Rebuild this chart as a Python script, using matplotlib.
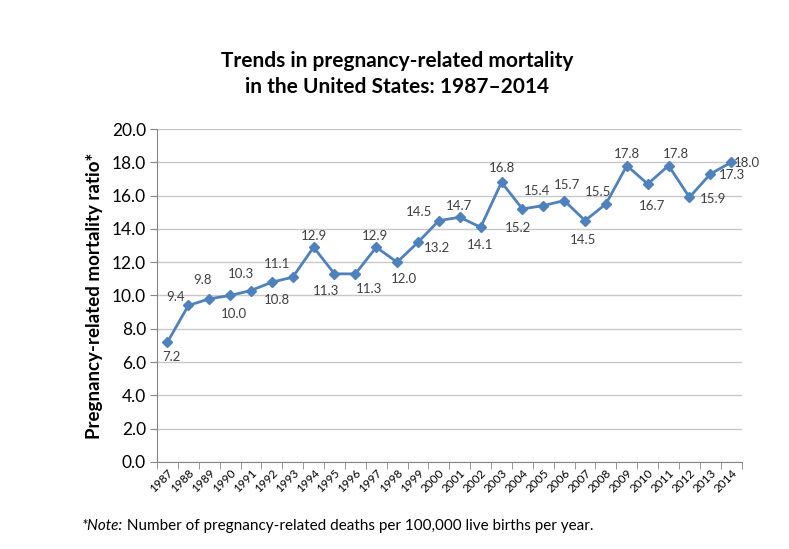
import matplotlib.pyplot as plt
import numpy as np

years = [str(y) for y in range(1987, 2015)]
ratios = [7.2, 9.4, 9.8, 10.0, 10.3, 10.8, 11.1, 12.9, 11.3, 11.3, 12.9, 12.0,
          13.2, 14.5, 14.7, 14.1, 16.8, 15.2, 15.4, 15.7, 14.5, 15.5, 17.8, 16.7,
          17.8, 15.9, 17.3, 18.0]

# label offsets in pixels (dx, dy up), hand placed like the original
label_offsets = [(4, -15), (-13, 8), (-7, 19), (4, -19), (-10, 17), (5, -18),
                 (-16, 13), (0, 11), (-8, -17), (14, -15), (-1, 11), (7, -17),
                 (19, -6), (-20, 9), (-1, 11), (-1, -18), (0, 14), (-4, -19),
                 (-6, 15), (3, 16), (-2, -19), (-8, 12), (0, 12), (4, -22),
                 (7, 12), (24, -2), (22, -1), (16, -1)]

plt.rcParams['font.family'] = ['Lato', 'DejaVu Sans']

fig = plt.figure(figsize=(7.89, 5.49), dpi=100)
ax = fig.add_axes([0.199, 0.1585, 0.741, 0.6065])

x = np.arange(len(years))
ax.plot(x, ratios, color='#4F81BD', lw=2, marker='D', ms=5, zorder=3)

px = 0.72  # points per pixel
for xi, v, (dx, dy) in zip(x, ratios, label_offsets):
    ax.annotate(f"{v:.1f}", (xi, v), xytext=(dx * px, dy * px),
                textcoords='offset points', ha='center', va='center',
                fontsize=9.5, color='#404040')

ax.set_xlim(-0.5, len(years) - 0.5)
ax.set_ylim(0, 20)
ax.set_yticks(np.arange(0, 20.1, 2))
ax.set_yticklabels([f"{t:.1f}" for t in np.arange(0, 20.1, 2)], fontsize=12.5)
ax.yaxis.grid(True, color='#c8c8c8', lw=1)
ax.set_axisbelow(True)

ax.set_xticks(x)
ax.set_xticklabels(years, rotation=45, ha='right', rotation_mode='anchor',
                   fontsize=8.5)
ax.tick_params(axis='x', length=0, pad=4)
ax.set_xticks(np.arange(-0.5, len(years), 1), minor=True)
ax.tick_params(axis='x', which='minor', length=5, color='#868686')
ax.tick_params(axis='y', length=5, color='#868686', pad=3)

for s in ['top', 'right']:
    ax.spines[s].set_visible(False)
for s in ['left', 'bottom']:
    ax.spines[s].set_color('#868686')

ax.set_ylabel("Pregnancy-related mortality ratio*", fontsize=13.5,
              fontweight='bold', labelpad=6)

fig.text(0.503, 0.865, "Trends in pregnancy-related mortality\nin the United States: 1987\u20132014",
         ha='center', va='center', fontsize=15, fontweight='bold',
         linespacing=1.35)

note = fig.text(0.104, 0.035, "*Note:", fontsize=11, style='italic',
                va='baseline')
ax.annotate(" Number of pregnancy-related deaths per 100,000 live births per year.",
            xy=(1, 0), xycoords=note, va='bottom', fontsize=11,
            annotation_clip=False)

fig.savefig("out.png", dpi=100)
